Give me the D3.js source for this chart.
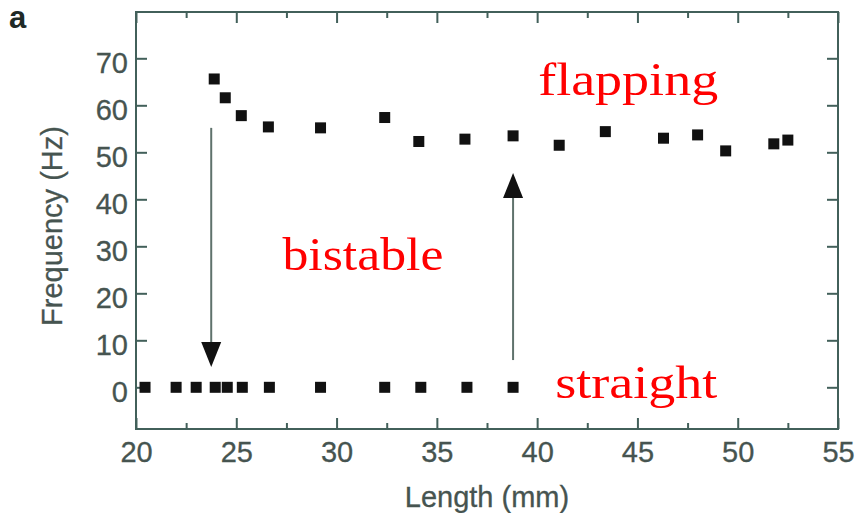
<!DOCTYPE html>
<html>
<head>
<meta charset="utf-8">
<script src="https://cdn.jsdelivr.net/npm/d3@7"></script>
<style>
  body { margin: 0; background: #fff; }
  .tick text { font-family: "Liberation Sans", Arial, sans-serif; font-size: 29px; fill: #465450; stroke: #465450; stroke-width: 0.3px; }
  .tick line { stroke: #42605a; stroke-width: 2; }
  .label { font-family: "Liberation Sans", Arial, sans-serif; font-size: 29px; fill: #465450; stroke: #465450; stroke-width: 0.3px; }
  .note { font-family: "Liberation Serif", "Times New Roman", serif; font-size: 46px; fill: #ff0000; }
</style>
</head>
<body>
<script>
var width = 860;
var height = 513;
var margin = {top: 12, right: 22, bottom: 84, left: 136};

// flapping branch (Hz) vs length (mm)
var flapLength = [23.9, 24.45, 25.25, 26.6, 29.2, 32.4, 34.1, 36.4, 38.8, 41.1, 43.4, 46.3, 48.0, 49.4, 51.8, 52.5];
var flapFreq   = [65.6, 61.6, 57.8, 55.4, 55.2, 57.4, 52.3, 52.8, 53.5, 51.5, 54.4, 53.0, 53.7, 50.3, 51.8, 52.6];

// straight branch (frequency 0)
var straightLength = [20.45, 22.0, 23.0, 23.95, 24.55, 25.3, 26.65, 29.2, 32.4, 34.2, 36.5, 38.8];

var xTicks = [20, 25, 30, 35, 40, 45, 50, 55];
var xMinor = [22.5, 27.5, 32.5, 37.5, 42.5, 47.5, 52.5];
var yTicks = [0, 10, 20, 30, 40, 50, 60, 70];

// hysteresis arrows: [x, from, to]
var arrows = [[23.75, 55.2, 4.3], [38.8, 5.8, 45.6]];

var notes = ["flapping", "bistable", "straight"];
var noteX = [40.05, 27.3, 40.9];
var noteY = [62.2, 25.0, -2.3];
var noteLen = [180, 161, 162];

var svg = d3.select("body").append("svg")
    .attr("width", width)
    .attr("height", height);

var xScale = d3.scaleLinear().domain([20, 55])
    .range([margin.left, width - margin.right]);
var yScale = d3.scaleLinear().domain([-8.87, 79.85])
    .range([height - margin.bottom, margin.top]);

// frame
svg.append("rect")
    .attr("x", xScale(20)).attr("y", yScale(79.85))
    .attr("width", xScale(55) - xScale(20))
    .attr("height", yScale(-8.87) - yScale(79.85))
    .attr("fill", "none")
    .attr("stroke", "#42605a")
    .attr("stroke-width", 2);

function axisG(tr) {
  return svg.append("g").attr("transform", tr);
}

// bottom axis
axisG("translate(0," + (height - margin.bottom) + ")")
    .call(d3.axisBottom(xScale).tickValues(xTicks).tickSize(-11).tickPadding(12).tickFormat(d3.format("d")))
    .call(function(g) { g.select(".domain").remove(); });
axisG("translate(0," + (height - margin.bottom) + ")")
    .call(d3.axisBottom(xScale).tickValues(xMinor).tickSize(-6).tickFormat(""))
    .call(function(g) { g.select(".domain").remove(); });

// top axis
axisG("translate(0," + margin.top + ")")
    .call(d3.axisTop(xScale).tickValues(xTicks).tickSize(-11).tickFormat(""))
    .call(function(g) { g.select(".domain").remove(); });
axisG("translate(0," + margin.top + ")")
    .call(d3.axisTop(xScale).tickValues(xMinor).tickSize(-6).tickFormat(""))
    .call(function(g) { g.select(".domain").remove(); });

// left axis
axisG("translate(" + margin.left + ",0)")
    .call(d3.axisLeft(yScale).tickValues(yTicks).tickSize(-11).tickPadding(8))
    .call(function(g) {
      g.select(".domain").remove();
      g.selectAll("text").attr("dy", "0.5em");
    });

// right axis
axisG("translate(" + (width - margin.right) + ",0)")
    .call(d3.axisRight(yScale).tickValues(yTicks).tickSize(-11).tickFormat(""))
    .call(function(g) { g.select(".domain").remove(); });

// axis titles
svg.append("text")
    .attr("class", "label")
    .attr("text-anchor", "middle")
    .attr("x", 487)
    .attr("y", 507)
    .text("Length (mm)");

svg.append("text")
    .attr("class", "label")
    .attr("text-anchor", "middle")
    .attr("transform", "translate(62,226) rotate(-90)")
    .text("Frequency (Hz)");

svg.append("text")
    .attr("x", 9).attr("y", 28)
    .style("font-family", "Liberation Sans, Arial, sans-serif")
    .style("font-size", "31px")
    .style("font-weight", "bold")
    .attr("fill", "#1f2a27")
    .text("a");

// arrows
arrows.forEach(function(a) {
  var dir = a[2] < a[1] ? 1 : -1;  // 1 = pointing down
  var x0 = xScale(a[0]), y0 = yScale(a[1]), tip = yScale(a[2]);
  var headLen = 25, headW = 10;
  svg.append("line")
      .attr("x1", x0).attr("x2", x0)
      .attr("y1", y0).attr("y2", tip - dir * headLen)
      .attr("stroke", "#5f726c")
      .attr("stroke-width", 2);
  svg.append("path")
      .attr("d", "M" + x0 + "," + tip +
                 "L" + (x0 - headW) + "," + (tip - dir * headLen) +
                 "L" + (x0 + headW) + "," + (tip - dir * headLen) + "Z")
      .attr("fill", "#111");
});

// markers
var sq = 11;
svg.append("g").selectAll("rect.flap")
    .data(d3.zip(flapLength, flapFreq))
  .enter().append("rect")
    .attr("x", function(d) { return xScale(d[0]) - sq / 2; })
    .attr("y", function(d) { return yScale(d[1]) - sq / 2; })
    .attr("width", sq).attr("height", sq)
    .attr("fill", "#111");

svg.append("g").selectAll("rect.straight")
    .data(straightLength)
  .enter().append("rect")
    .attr("x", function(d) { return xScale(d) - sq / 2; })
    .attr("y", yScale(0) - sq / 2)
    .attr("width", sq).attr("height", sq)
    .attr("fill", "#111");

// regime labels
notes.forEach(function(t, i) {
  svg.append("text")
      .attr("class", "note")
      .attr("x", xScale(noteX[i]))
      .attr("y", yScale(noteY[i]))
      .attr("textLength", noteLen[i])
      .attr("lengthAdjust", "spacingAndGlyphs")
      .text(t);
});
</script>
</body>
</html>
